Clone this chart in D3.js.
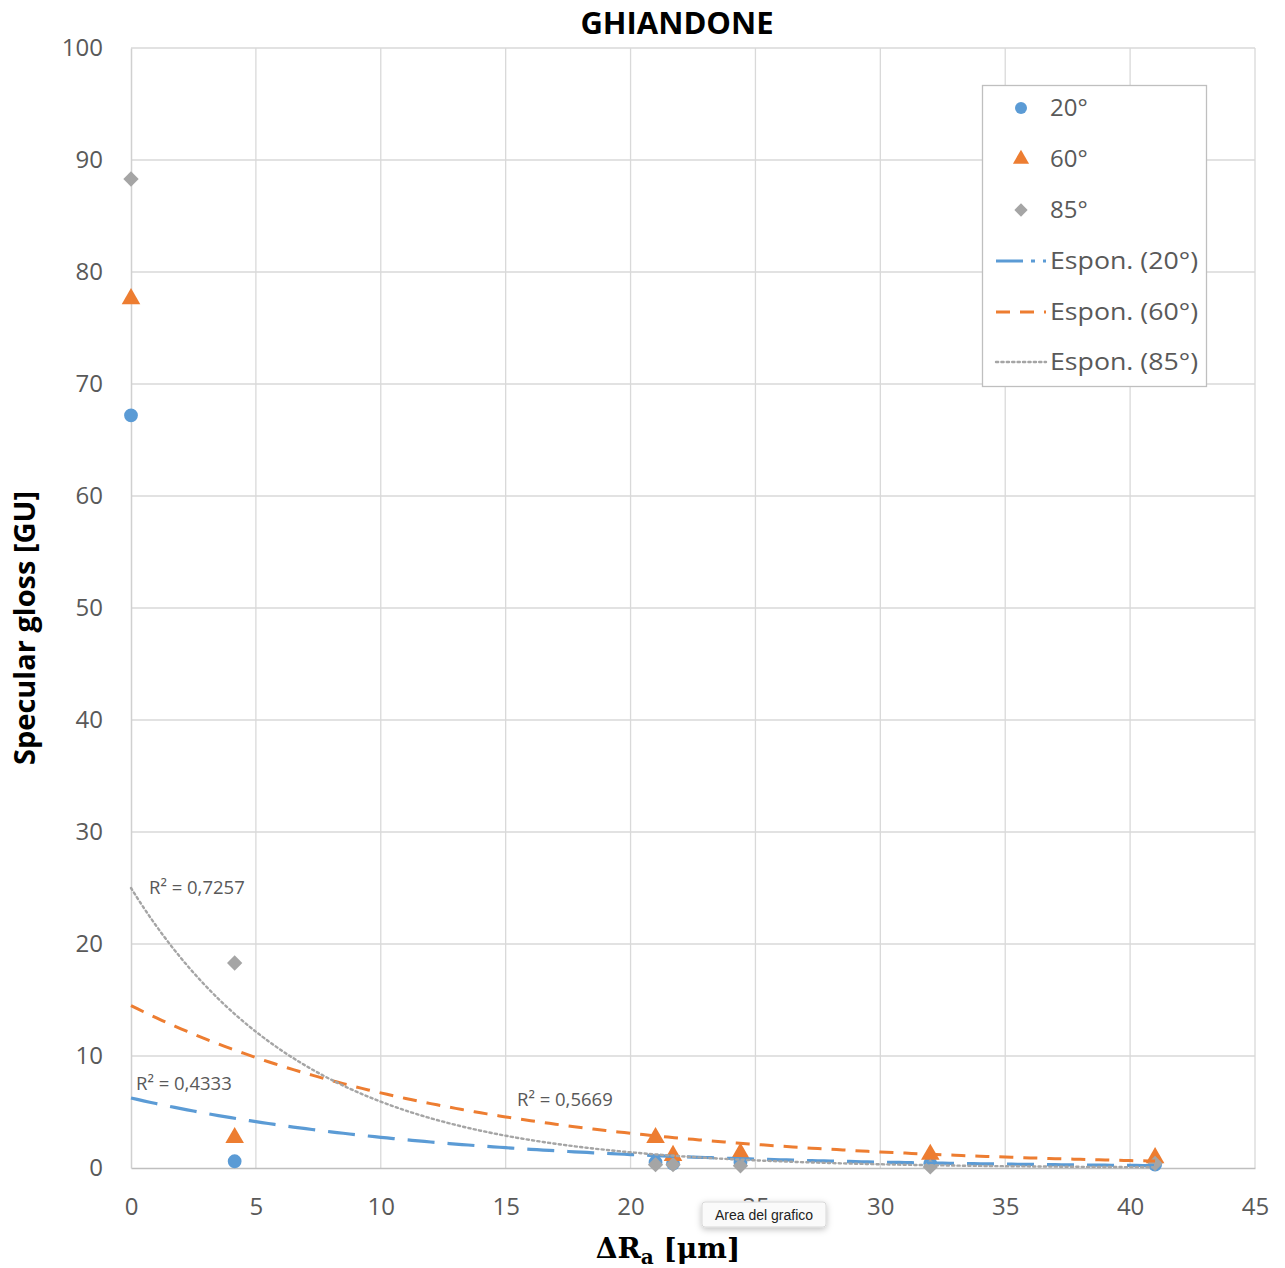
<!DOCTYPE html>
<html><head><meta charset="utf-8">
<script src="https://cdn.jsdelivr.net/npm/d3@7"></script>
<style>body{margin:0;background:#fff;} svg{display:block;}</style>
</head><body>
<script>
const xValues = [0, 4.15, 21, 21.7, 24.4, 32, 41];
const gloss20 = [67.2, 0.6, 0.5, 0.4, 0.5, 0.4, 0.3];
const gloss60 = [77.7, 2.8, 2.8, 1.2, 1.4, 1.3, 1.0];
const gloss85 = [88.3, 18.3, 0.3, 0.3, 0.2, 0.1, 0.4];
// exponential trendline coefficients y = a*exp(b*x)
const trendA = [6.25, 14.5, 25.0];
const trendB = [-0.0825, -0.0771, -0.144];
const trendR2 = ["R² = 0,4333", "R² = 0,5669", "R² = 0,7257"];
const xTicks = [0, 5, 10, 15, 20, 25, 30, 35, 40, 45];
const yTicks = [0, 10, 20, 30, 40, 50, 60, 70, 80, 90, 100];
const seriesNames = ["20°", "60°", "85°"];
const trendNames = ["Espon. (20°)", "Espon. (60°)", "Espon. (85°)"];
const colors = ["#5b9bd5", "#ed7d31", "#a5a5a5"];

const W = 1285, H = 1268;
const L = 131, R = 1255, T = 48, B = 1168;
const font = "'Open Sans', Lato, sans-serif";
const svg = d3.select("body").append("svg").attr("width", W).attr("height", H);
const x = d3.scaleLinear().domain([0, 45]).range([L, R]);
const y = d3.scaleLinear().domain([0, 100]).range([B, T]);

// grid
svg.append("g").selectAll("line").data(yTicks.slice(1)).join("line")
  .attr("x1", L).attr("x2", R).attr("y1", d => y(d)).attr("y2", d => y(d))
  .attr("stroke", "#d9d9d9").attr("stroke-width", 1.3);
svg.append("g").selectAll("line").data(xTicks.slice(1)).join("line")
  .attr("y1", T).attr("y2", B).attr("x1", d => x(d)).attr("x2", d => x(d))
  .attr("stroke", "#d9d9d9").attr("stroke-width", 1.3);

// axes
const xAxis = svg.append("g").attr("transform", `translate(0,${B})`)
  .call(d3.axisBottom(x).tickValues(xTicks).tickSize(0).tickPadding(30));
xAxis.select(".domain").attr("stroke", "#bfbfbf").attr("stroke-width", 1.5);
xAxis.selectAll("text").attr("font-family", font).attr("font-size", 24).attr("fill", "#595959");
const yAxis = svg.append("g").attr("transform", `translate(${L},0)`)
  .call(d3.axisLeft(y).tickValues(yTicks).tickSize(0).tickPadding(28));
yAxis.select(".domain").attr("stroke", "#d0d0d0").attr("stroke-width", 1.5);
yAxis.selectAll("text").attr("font-family", font).attr("font-size", 24).attr("fill", "#595959");

// markers
const series = [gloss20, gloss60, gloss85];
const symbols = [d3.symbolCircle, d3.symbolTriangle, d3.symbolDiamond2];
const sizes = [150, 150, 150];
series.forEach((s, i) => {
  svg.append("g").selectAll("path").data(s.map((v, j) => [xValues[j], v])).join("path")
    .attr("d", d3.symbol().type(symbols[i]).size(sizes[i]))
    .attr("transform", d => `translate(${x(d[0])},${y(d[1]) + (i === 1 ? 1 : 0)})`)
    .attr("fill", colors[i]);
});

// trendlines
const dashes = ["27,13", "14,10", "2.2,3.2"];
const widths = [3.2, 3, 2.4];
const xs = d3.range(0, 41.01, 0.25);
[0, 1, 2].forEach(i => {
  const line = d3.line().x(d => x(d)).y(d => y(trendA[i] * Math.exp(trendB[i] * d)));
  svg.append("path").datum(xs).attr("d", line).attr("fill", "none")
    .attr("stroke", colors[i]).attr("stroke-width", widths[i])
    .attr("stroke-dasharray", dashes[i]).attr("stroke-linecap", i === 2 ? "round" : "butt");
});

// R² labels
const r2pos = [[136, 1084], [517, 1100], [149, 888]];
trendR2.forEach((t, i) => {
  svg.append("text").attr("x", r2pos[i][0]).attr("y", r2pos[i][1]).attr("dy", "0.35em")
    .attr("font-family", font).attr("font-size", 18.5).attr("fill", "#595959").text(t);
});

// legend
const lg = svg.append("g");
lg.append("rect").attr("x", 982.5).attr("y", 85.5).attr("width", 224).attr("height", 301)
  .attr("fill", "#fff").attr("stroke", "#bfbfbf").attr("stroke-width", 1.3);
const ly = [108, 159, 210, 261, 312, 362];
seriesNames.forEach((n, i) => {
  lg.append("path").attr("d", d3.symbol().type(symbols[i]).size(sizes[i] * 0.75)())
    .attr("transform", `translate(1021,${ly[i]})`).attr("fill", colors[i]);
  lg.append("text").attr("x", 1050).attr("y", ly[i]).attr("dy", "0.35em")
    .attr("font-family", font).attr("font-size", 24).attr("fill", "#595959").text(n);
});
const lgDash = ["27,8,4,8", "14,10", "2.2,3.2"];
trendNames.forEach((n, i) => {
  const yy = ly[i + 3];
  lg.append("line").attr("x1", 996).attr("x2", 1046).attr("y1", yy).attr("y2", yy)
    .attr("stroke", colors[i]).attr("stroke-width", widths[i])
    .attr("stroke-dasharray", lgDash[i]).attr("stroke-linecap", i === 2 ? "round" : "butt");
  lg.append("text").attr("x", 1050).attr("y", yy).attr("dy", "0.35em")
    .attr("font-family", font).attr("font-size", 24).attr("fill", "#595959")
    .attr("textLength", 148).attr("lengthAdjust", "spacingAndGlyphs").text(n);
});

// titles
svg.append("text").attr("x", 677).attr("y", 34).attr("text-anchor", "middle")
  .attr("font-family", font).attr("font-weight", "bold").attr("font-size", 31).attr("fill", "#000").text("GHIANDONE");
svg.append("text").attr("transform", "translate(35,628) rotate(-90)").attr("text-anchor", "middle")
  .attr("font-family", font).attr("font-weight", "bold").attr("font-size", 29).attr("fill", "#000").text("Specular gloss [GU]");
const xl = svg.append("text").attr("x", 668).attr("y", 1258).attr("text-anchor", "middle")
  .attr("font-family", "'DejaVu Serif', serif").attr("font-weight", "bold").attr("font-size", 28).attr("fill", "#000");
xl.append("tspan").text("ΔR");
xl.append("tspan").attr("font-size", 20).attr("dy", 6).text("a");
xl.append("tspan").attr("dy", -6).text(" [μm]");

// tooltip
const tt = svg.append("g");
const flt = svg.append("defs").append("filter").attr("id", "sh").attr("x", "-20%").attr("y", "-50%").attr("width", "140%").attr("height", "200%");
flt.append("feDropShadow").attr("dx", 0).attr("dy", 2).attr("stdDeviation", 3).attr("flood-opacity", 0.25);
tt.append("rect").attr("x", 702).attr("y", 1202).attr("width", 124).attr("height", 25).attr("rx", 3)
  .attr("fill", "#fafafa").attr("stroke", "#d8d8d8").attr("filter", "url(#sh)");
tt.append("text").attr("x", 764).attr("y", 1215).attr("dy", "0.35em").attr("text-anchor", "middle")
  .attr("font-family", "'Liberation Sans', Arial, sans-serif").attr("font-size", 14).attr("fill", "#222").text("Area del grafico");
</script>
</body></html>
